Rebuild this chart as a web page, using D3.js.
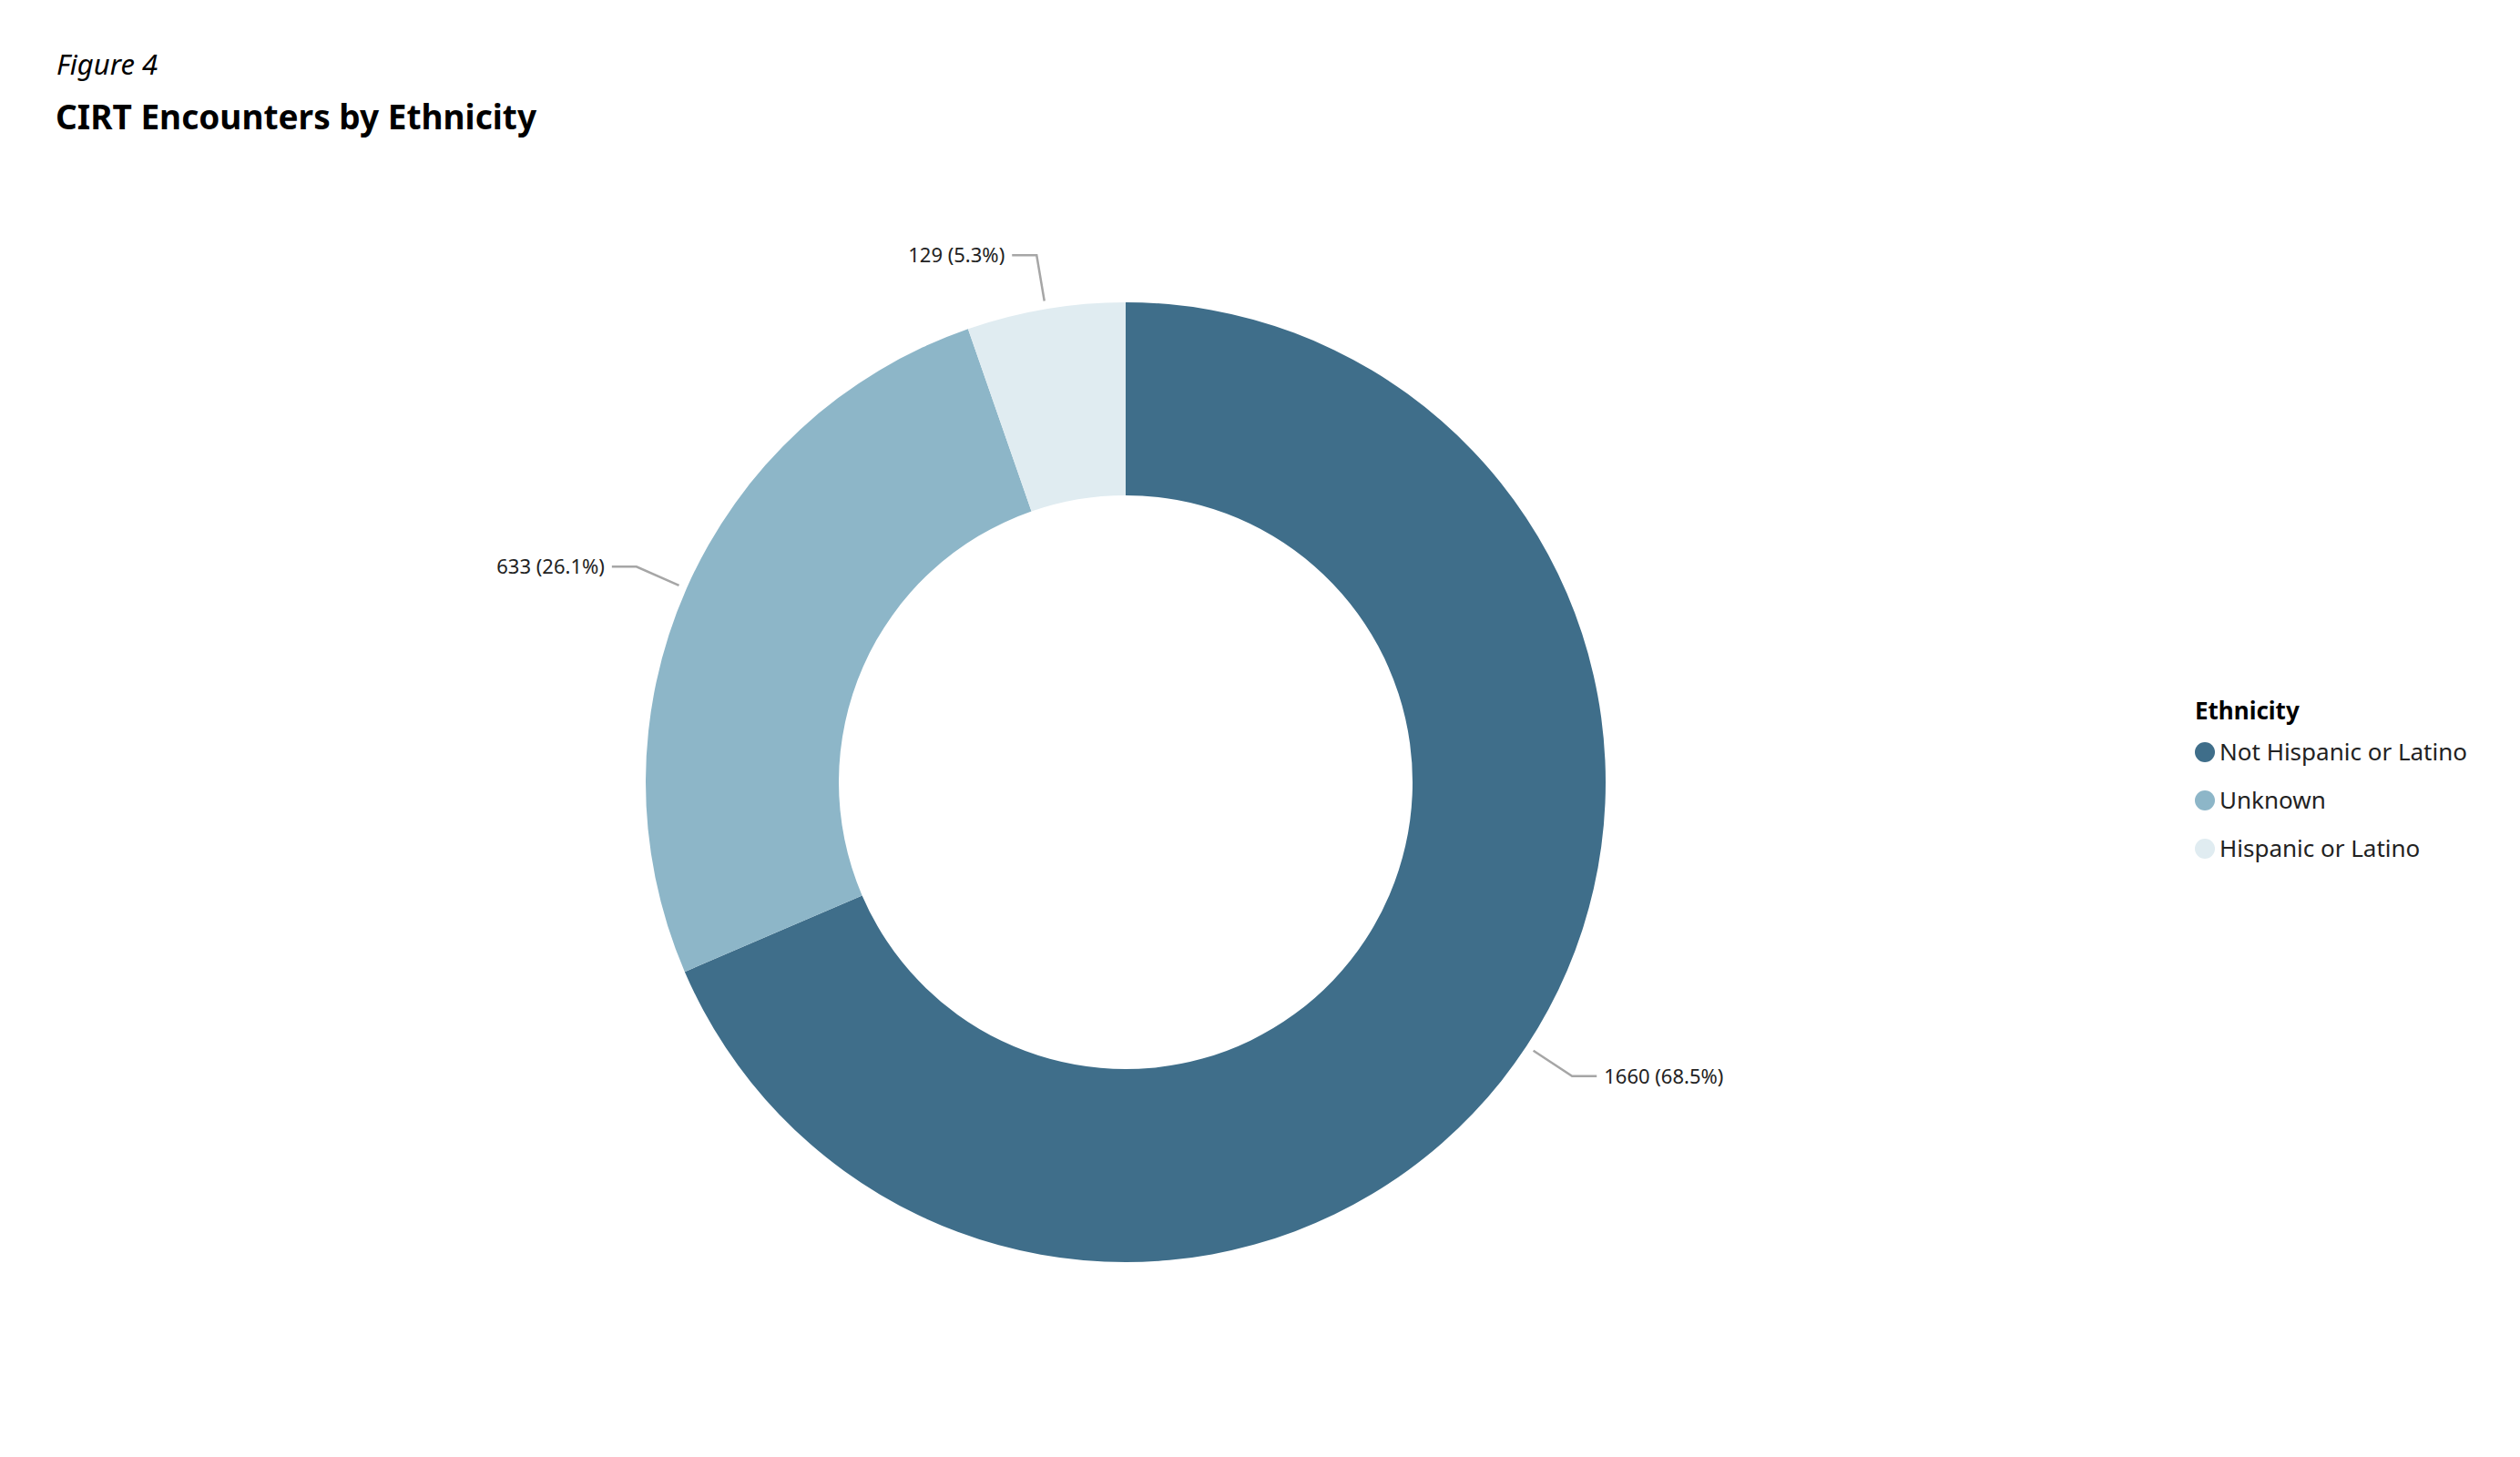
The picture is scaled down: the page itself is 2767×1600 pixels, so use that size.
<!DOCTYPE html>
<html><head><meta charset="utf-8">
<script src="https://cdn.jsdelivr.net/npm/d3@7"></script>
<style>body{margin:0;background:#fff}text{font-family:"Segoe UI","Noto Sans","Open Sans",sans-serif}</style>
</head><body><svg id="c" width="2767" height="1600"></svg>
<script>
const categories = ["Not Hispanic or Latino","Unknown","Hispanic or Latino"];
const values = [1660, 633, 129];
const labels = ["1660 (68.5%)","633 (26.1%)","129 (5.3%)"];
const colors = ["#3f6e8a","#8db6c8","#e0ecf1"];

const svg = d3.select("#c");
svg.append("text").attr("x",62).attr("y",82).attr("font-size",31).attr("font-style","italic").text("Figure 4");
svg.append("text").attr("x",61).attr("y",142).attr("font-size",37).attr("font-weight","bold").text("CIRT Encounters by Ethnicity");

const cx=1236, cy=859, R=527, r0=315;
const g = svg.append("g").attr("transform",`translate(${cx},${cy})`);
const pie = d3.pie().sort(null).value(d=>d)(values);
const arc = d3.arc().innerRadius(r0).outerRadius(R);
g.selectAll("path.s").data(pie).join("path").attr("d",arc).attr("fill",(d,i)=>colors[i]);

pie.forEach((d,i)=>{
  const a=(d.startAngle+d.endAngle)/2, s=Math.sin(a), c=-Math.cos(a);
  const p1=[s*(R+9),c*(R+9)], p2=[s*(R+60),c*(R+60)];
  const dir = s>=0?1:-1;
  const p3=[p2[0]+dir*27,p2[1]];
  g.append("polyline").attr("points",[p1,p2,p3].map(p=>p.join(",")).join(" "))
    .attr("fill","none").attr("stroke","#a6a6a6").attr("stroke-width",2.5);
  g.append("text").attr("x",p3[0]+dir*8).attr("y",p3[1]).attr("dy","0.35em")
    .attr("text-anchor",dir>0?"start":"end").attr("font-size",22).attr("fill","#222").text(labels[i]);
});

const lg = svg.append("g");
lg.append("text").attr("x",2410).attr("y",790).attr("font-size",26).attr("font-weight","bold").text("Ethnicity");
categories.forEach((c,i)=>{
  const y=826+i*53;
  lg.append("circle").attr("cx",2421).attr("cy",y).attr("r",11).attr("fill",colors[i]);
  lg.append("text").attr("x",2437).attr("y",y).attr("dy","0.35em").attr("font-size",26).attr("fill","#222").text(c);
});
</script></body></html>
